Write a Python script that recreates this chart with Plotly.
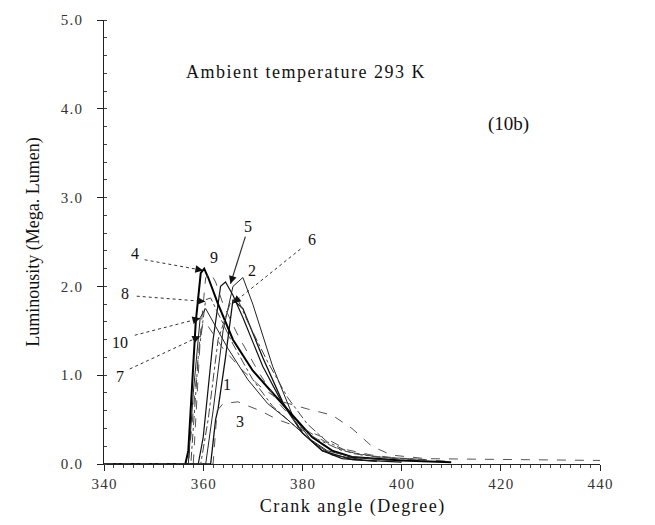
import math
import plotly.graph_objects as go

# ---- data ----
c1_x = [340, 361.5, 362.5, 363, 364.5, 366, 368, 372, 376, 380, 384, 390, 400]
c1_y = [0, 0, 0.5, 0.62, 1.2, 1.85, 1.75, 1.2, 0.7, 0.35, 0.15, 0.05, 0.02]
c2_x = [340, 360.5, 362, 364, 366, 368, 370, 374, 378, 382, 386, 392]
c2_y = [0, 0, 0.6, 1.5, 2.0, 2.1, 1.8, 1.1, 0.55, 0.25, 0.1, 0.05]
c3_x = [340, 362, 362.8, 364, 367, 371.5, 375, 380, 385, 389, 394, 400, 410]
c3_y = [0, 0, 0.6, 0.68, 0.7, 0.6, 0.5, 0.4, 0.28, 0.16, 0.1, 0.06, 0.03]
c4_x = [340, 356.4, 357, 358.5, 359.5, 360.2, 361, 363, 366, 370, 374, 378, 382, 386, 390, 400, 410]
c4_y = [0, 0, 0.15, 1.6, 2.15, 2.2, 2.1, 1.8, 1.4, 1.05, 0.8, 0.55, 0.3, 0.15, 0.08, 0.04, 0.02]
c5_x = [340, 359, 360, 362, 363.5, 364.5, 366, 368, 372, 376, 380, 384, 388, 395]
c5_y = [0, 0, 0.3, 1.4, 2.0, 2.05, 1.9, 1.65, 1.1, 0.68, 0.35, 0.15, 0.06, 0.03]
c6_x = [340, 359.5, 361, 363, 365.5, 367, 369, 373, 377, 381, 385, 390, 396, 405]
c6_y = [0, 0, 0.5, 1.4, 1.82, 1.85, 1.6, 1.15, 0.75, 0.45, 0.25, 0.12, 0.07, 0.04]
c7_x = [340, 357, 358, 359.4, 360, 361, 364, 368, 372, 376, 381, 386, 390, 394, 398, 405, 440]
c7_y = [0, 0, 0.6, 1.45, 1.6, 1.55, 1.3, 1.05, 0.85, 0.7, 0.62, 0.55, 0.4, 0.2, 0.1, 0.06, 0.04]
c8_x = [340, 357.5, 359, 360.5, 361.5, 363, 366, 370, 374, 378, 383, 388, 395, 405]
c8_y = [0, 0, 1.2, 1.85, 1.87, 1.7, 1.35, 0.95, 0.65, 0.45, 0.28, 0.15, 0.08, 0.05]
c9_x = [340, 358, 359.5, 360.5, 361.5, 362.5, 364, 367, 371, 375, 379, 383, 387, 392, 398, 405]
c9_y = [0, 0, 1.5, 2.1, 2.15, 2.05, 1.8, 1.45, 1.05, 0.7, 0.45, 0.3, 0.18, 0.1, 0.07, 0.05]
c10_x = [340, 357, 358, 359.4, 360.5, 362, 365, 369, 373, 377, 381, 385, 390, 398]
c10_y = [0, 0, 0.8, 1.65, 1.75, 1.6, 1.3, 0.95, 0.68, 0.5, 0.3, 0.15, 0.08, 0.04]

x_ticks = [340, 360, 380, 400, 420, 440]
y_ticks = [0, 1, 2, 3, 4, 5]

series = [
    ("1", c1_x, c1_y), ("2", c2_x, c2_y), ("3", c3_x, c3_y), ("4", c4_x, c4_y),
    ("5", c5_x, c5_y), ("6", c6_x, c6_y), ("7", c7_x, c7_y), ("8", c8_x, c8_y),
    ("9", c9_x, c9_y), ("10", c10_x, c10_y),
]
styles = {
    "1": ("#111", 1.3, "solid"), "2": ("#222", 1.0, "solid"), "3": ("#555", 1.0, "dash"),
    "4": ("#000", 2.0, "solid"), "5": ("#111", 1.2, "solid"), "6": ("#444", 1.0, "dashdot"),
    "7": ("#555", 1.0, "dash"), "8": ("#444", 1.0, "dashdot"), "9": ("#555", 1.0, "dash"),
    "10": ("#222", 1.0, "solid"),
}

# label text positions, arrow tips (None = no arrow), arrow style
label_names = ["4", "9", "5", "2", "6", "8", "10", "7", "1", "3"]
label_x = [346.3, 362.2, 369.1, 369.9, 382.0, 344.2, 343.2, 343.2, 364.8, 367.5]
label_y = [2.37, 2.33, 2.67, 2.18, 2.53, 1.92, 1.37, 0.98, 0.90, 0.48]
tip_x = [360.0, None, 365.5, None, 366.0, 360.4, 359.4, 359.4, None, None]
tip_y = [2.18, None, 2.03, None, 1.81, 1.83, 1.64, 1.44, None, None]
tail_x = [348.2, None, 368.5, None, 379.6, 346.6, 346.2, 345.2, None, None]
tail_y = [2.30, None, 2.56, None, 2.42, 1.89, 1.45, 1.07, None, None]
arrow_dash = ["dot", None, "solid", None, "dot", "dot", "dot", "dot", None, None]

SERIF = "Liberation Serif, Times New Roman, serif"
PX_PER_X = 496 / 100.0
PX_PER_Y = 450 / 5.0
HS = "\u200a"  # hair space for the letter-spaced look of the scan

def spaced(s):
    return HS.join(s)

fig = go.Figure()
for name, xs, ys in series:
    col, w, dash = styles[name]
    fig.add_trace(go.Scatter(x=xs, y=ys, mode="lines", name=name,
                             line=dict(color=col, width=w, dash=dash),
                             showlegend=False, hoverinfo="skip"))

annotations = []
for i, nm in enumerate(label_names):
    annotations.append(dict(x=label_x[i], y=label_y[i], text=nm, showarrow=False,
                            font=dict(family=SERIF, size=16, color="#111")))
    if tip_x[i] is not None:
        fig.add_trace(go.Scatter(x=[tail_x[i], tip_x[i]], y=[tail_y[i], tip_y[i]],
                                 mode="lines", showlegend=False, hoverinfo="skip",
                                 line=dict(color="#333", width=1.2 if arrow_dash[i] == "solid" else 1,
                                           dash=arrow_dash[i])))
        dx = (tail_x[i] - tip_x[i]) * PX_PER_X
        dy = -(tail_y[i] - tip_y[i]) * PX_PER_Y
        n = math.hypot(dx, dy)
        annotations.append(dict(x=tip_x[i], y=tip_y[i], ax=dx / n * 9, ay=dy / n * 9,
                                text="", showarrow=True,
                                arrowhead=2, arrowsize=1.3, arrowwidth=1.2,
                                arrowcolor="#111", standoff=0))

annotations.append(dict(x=380.6, y=4.42, text=spaced("Ambient temperature 293 K"),
                        showarrow=False,
                        font=dict(family=SERIF, size=18, color="#111")))
annotations.append(dict(x=421.5, y=3.83, text="(10b)", showarrow=False,
                        font=dict(family=SERIF, size=19, color="#111")))

fig.update_layout(
    width=655, height=525,
    margin=dict(l=104, r=55, t=18, b=57),
    paper_bgcolor="white", plot_bgcolor="white",
    annotations=annotations,
    font=dict(family=SERIF, color="#222"),
    xaxis=dict(range=[340, 440], tickvals=x_ticks,
               ticktext=[spaced(str(v)) for v in x_ticks],
               showgrid=False, zeroline=False, showline=True, linecolor="#222", linewidth=1,
               ticks="outside", ticklen=6, tickcolor="#222",
               minor=dict(dtick=2, ticks="outside", ticklen=3, tickcolor="#444"),
               tickfont=dict(family=SERIF, size=15, color="#333"),
               title=dict(text=spaced("Crank angle (Degree)"),
                          font=dict(family=SERIF, size=18, color="#111"), standoff=8)),
    yaxis=dict(range=[0, 5], tickvals=y_ticks,
               ticktext=[spaced(f"{v:.1f}") for v in y_ticks],
               showgrid=False, zeroline=False, showline=True, linecolor="#222", linewidth=1,
               ticks="outside", ticklen=6, tickcolor="#222", ticklabelstandoff=12,
               minor=dict(dtick=0.2, ticks="inside", ticklen=3, tickcolor="#444"),
               tickfont=dict(family=SERIF, size=15, color="#333"),
               title=dict(text="Luminousity (Mega. Lumen)",
                          font=dict(family=SERIF, size=18, color="#111"), standoff=16)),
)

fig.write_html("out.html")
